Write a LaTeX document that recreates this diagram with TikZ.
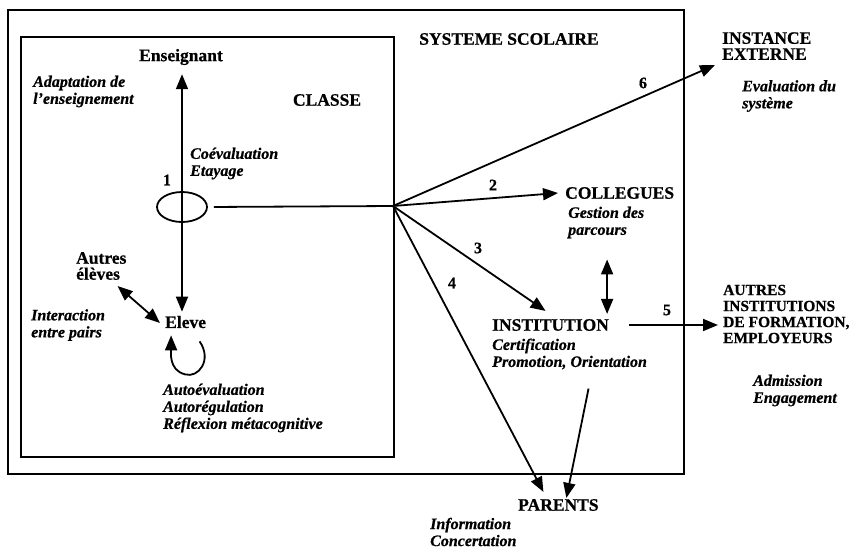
\documentclass[tikz,border=0pt]{standalone}
\usepackage{fontspec}
\setmainfont[BoldFeatures={FakeBold=0.6},BoldItalicFeatures={FakeBold=0.6}]{Liberation Serif}
\usetikzlibrary{arrows.meta,shapes.geometric,calc}
\tikzset{
 head/.style={font=\fontsize{17.5}{16}\selectfont\bfseries, inner sep=0pt, align=left},
 desc/.style={font=\fontsize{16}{17}\selectfont\bfseries\itshape, inner sep=0pt, align=left},
 num/.style={font=\fontsize{16}{16}\selectfont\bfseries, inner sep=0pt},
 ln/.style={line width=1.8pt},
 arr/.style={ln, -{Triangle[length=15pt,width=12pt]}},
 dbl/.style={ln, {Triangle[length=15pt,width=12pt]}-{Triangle[length=15pt,width=12pt]}},
 boxline/.style={line width=2pt}
}
\begin{document}
\begin{tikzpicture}[x=1pt,y=-1pt]
\fill[white] (0,0) rectangle (860,550);
\useasboundingbox (0,0) rectangle (860,550);
% boxes
\draw[boxline] (8,10) rectangle (684,474);
\draw[boxline] (21,37) rectangle (394,457);
% headings
\node[head] (sys) at (509,39) {SYSTEME SCOLAIRE};
\node[head] (classe) at (327,100) {CLASSE};
\node[head] (ens) at (181,57) {Enseignant};
\node[head, anchor=west] (eleve) at (165,322) {Eleve};
\node[head, anchor=west] (autres) at (76,266) {Autres\\élèves};
\node[head, anchor=west] (coll) at (565,193) {COLLEGUES};
\node[head, anchor=west] (instit) at (492,325) {INSTITUTION};
\node[head, anchor=west] (parents) at (518,505) {PARENTS};
\node[head, anchor=west] (instext) at (722,46) {INSTANCE\\EXTERNE};
\node[head, anchor=west, font=\fontsize{15.5}{16}\selectfont\bfseries] (autinst) at (723,314) {AUTRES\\INSTITUTIONS\\DE FORMATION,\\EMPLOYEURS};
% descriptions
\node[desc, anchor=west] (adapt) at (33,91.5) {Adaptation de\\l'enseignement};
\node[desc, anchor=west] (coeval) at (190,163.5) {Coévaluation\\Etayage};
\node[desc, anchor=west] (interact) at (31,325) {Interaction\\entre pairs};
\node[desc, anchor=west] (autoeval) at (163,408) {Autoévaluation\\Autorégulation\\Réflexion métacognitive};
\node[desc, anchor=west] (evalsys) at (742,96) {Evaluation du\\système};
\node[desc, anchor=west] (gestion) at (568,222.5) {Gestion des\\parcours};
\node[desc, anchor=west] (certif) at (492,354) {Certification\\Promotion, Orientation};
\node[desc, anchor=west] (admis) at (753,390.5) {Admission\\Engagement};
\node[desc, anchor=west] (info) at (430,532) {Information\\Concertation};
% numbers
\node[num] (n1) at (167,180) {1};
\node[num] (n2) at (493,185) {2};
\node[num] (n3) at (478,248) {3};
\node[num] (n4) at (452,283) {4};
\node[num] (n5) at (667,310) {5};
\node[num] (n6) at (643,83) {6};
% ellipse and hub
\coordinate (hub) at (393,206);
% connectors
\draw[dbl, shorten <=9pt, shorten >=4pt] ([xshift=1pt]ens.south) -- ([xshift=1pt]ens.south |- eleve.north);
\node[draw, ellipse, line width=1.8pt, minimum width=50pt, minimum height=30pt] (ell) at (182,207) {};
\draw[ln, shorten <=6pt] (ell.east) -- (hub);
\draw[dbl] ([shift={(-9,6)}]autres.south east) -- ([shift={(-5,1)}]eleve.west);
\draw[arr] ([shift={(14,13)}]eleve.south) .. controls +(13,19) and +(13,4) .. ++(-14.5,33) .. controls +(-17,-4) and +(0,15) .. ++(-14,-39);
\draw[arr] (hub) -- ([shift={(-7,19)}]instext.west);
\draw[arr] (hub) -- ([xshift=-7pt]coll.west);
\draw[arr] (hub) -- ([shift={(-5,-8)}]instit.north);
\draw[arr] (hub) -- ([shift={(-15,-7)}]parents.north);
\draw[arr] ([shift={(19,19)}]certif.south) -- ([shift={(8,-1)}]parents.north);
\draw[arr, shorten <=20pt, shorten >=5pt] (instit.east) -- (instit.east -| autinst.west);
\draw[dbl, shorten <=5pt, shorten >=21pt] ([xshift=-2pt]instit.north east) -- ([xshift=-2pt]instit.north east |- gestion.south);
\end{tikzpicture}
\end{document}
